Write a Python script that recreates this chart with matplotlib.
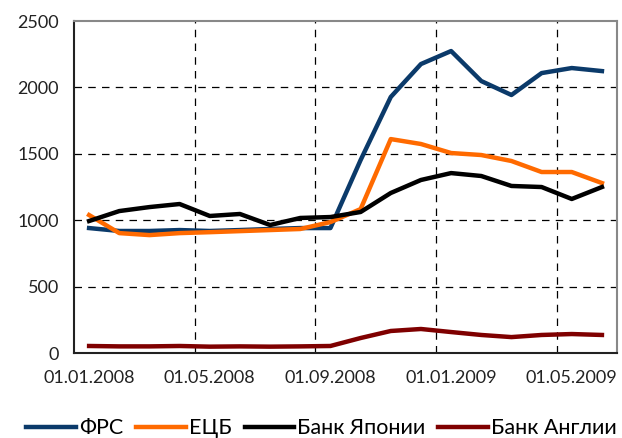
import matplotlib
matplotlib.use("Agg")
import matplotlib.pyplot as plt
import numpy as np

# monthly dates, Jan 2008 .. Jun 2009
dates = ["01.%02d.%d" % (m, y) for y in (2008, 2009) for m in range(1, 13)][:18]

frs = [941, 919, 919, 926, 919, 926, 934, 941, 941, 1453, 1928, 2176,
       2274, 2048, 1943, 2108, 2146, 2123]
ecb = [1039, 903, 888, 903, 910, 918, 926, 934, 986, 1084, 1611, 1574,
       1506, 1491, 1446, 1363, 1363, 1280]
boj = [994, 1069, 1099, 1122, 1032, 1047, 964, 1017, 1024, 1062, 1205, 1303,
       1355, 1333, 1258, 1250, 1160, 1250]
boe = [53, 50, 50, 53, 48, 50, 48, 50, 53, 113, 166, 181,
       158, 136, 120, 136, 143, 136]

series = [("ФРС", frs, "#0b3a6a"),
          ("ЕЦБ", ecb, "#ff6a00"),
          ("Банк Японии", boj, "#000000"),
          ("Банк Англии", boe, "#7f0000")]

plt.rcParams['font.family'] = ['Lato', 'DejaVu Sans']

fig = plt.figure(figsize=(6.22, 4.38), dpi=100)
ax = fig.add_axes([0.119, 0.194, 0.873, 0.758])

x = np.arange(len(dates))
for name, vals, col in series:
    ax.plot(x, vals, color=col, lw=3.2, label=name, solid_joinstyle='round')

ax.set_xlim(-0.5, len(dates) - 0.5)
ax.set_ylim(0, 2500)
ax.set_yticks(range(0, 2501, 500))
ax.set_xticks(x[::4])
ax.set_xticklabels(dates[::4])

# gridlines between categories
for gx in [3.5, 7.5, 11.5, 15.5]:
    ax.axvline(gx, color="black", lw=0.9, ls=(0, (6, 5)), zorder=0)
for gy in [500, 1000, 1500, 2000]:
    ax.axhline(gy, color="black", lw=0.9, ls=(0, (6, 5)), zorder=0)

ax.tick_params(axis='both', length=0, labelsize=13, colors="#222222")
ax.tick_params(axis='x', pad=12)
ax.tick_params(axis='y', pad=11)
for s in ['top', 'right']:
    ax.spines[s].set_color("#888888")
    ax.spines[s].set_linewidth(1.5)
for s in ['left', 'bottom']:
    ax.spines[s].set_color("#222222")
    ax.spines[s].set_linewidth(1.5)

fig.legend(loc='center', bbox_to_anchor=(0.517, 0.022), ncol=4, frameon=False,
           fontsize=15.5, handlelength=2.3, handletextpad=0.15, columnspacing=0.6)

fig.savefig("out.png", dpi=100)
